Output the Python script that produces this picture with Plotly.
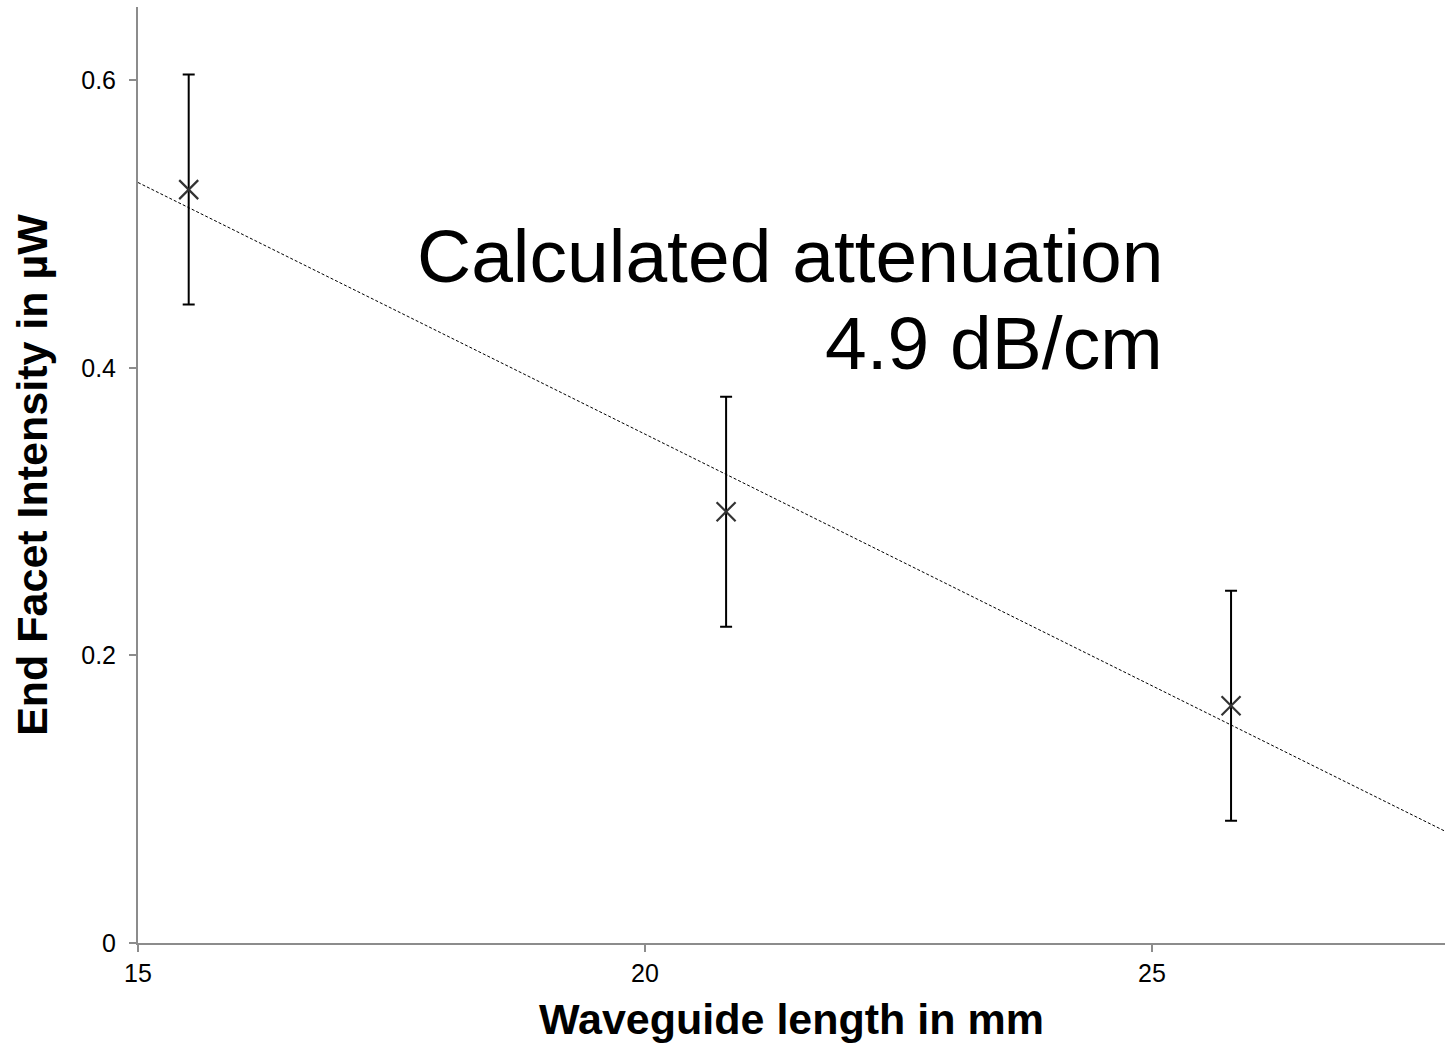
import numpy as np
import plotly.graph_objects as go

# Data
length_mm = [15.5, 20.8, 25.78]
intensity_uw = [0.524, 0.300, 0.165]
error_uw = [0.080, 0.080, 0.080]
x_ticks = [15, 20, 25]
y_ticks = [0, 0.2, 0.4, 0.6]
x_range = [15, 27.89]
y_range = [0, 0.651]
note_line1 = "Calculated attenuation"
note_line2 = "4.9 dB/cm"

FONT = "Liberation Sans, Arial, sans-serif"

# Linear trendline from data
slope, intercept = np.polyfit(length_mm, intensity_uw, 1)
trend_x = [x_range[0], x_range[1]]
trend_y = [slope * v + intercept for v in trend_x]

fig = go.Figure()
fig.add_trace(go.Scatter(
    x=trend_x, y=trend_y, mode="lines",
    line=dict(color="black", width=1, dash="3px,2px"),
    hoverinfo="skip", showlegend=False,
))
fig.add_trace(go.Scatter(
    x=length_mm, y=intensity_uw, mode="markers",
    marker=dict(symbol="x-thin", size=19, line=dict(color="#333333", width=2.2)),
    error_y=dict(type="data", array=error_uw, visible=True,
                 color="black", thickness=2, width=6),
    showlegend=False,
))

fig.add_annotation(xref="paper", yref="paper", x=0.786, y=0.734,
                   xanchor="right", yanchor="middle", text=note_line1,
                   showarrow=False, font=dict(family=FONT, size=75, color="black"))
fig.add_annotation(xref="paper", yref="paper", x=0.786, y=0.641,
                   xanchor="right", yanchor="middle", text=note_line2,
                   showarrow=False, font=dict(family=FONT, size=75, color="black"))

axis_common = dict(
    showgrid=False, zeroline=False, showline=True,
    linecolor="#8c8c8c", linewidth=2,
    ticks="outside", ticklen=7, tickwidth=2, tickcolor="#8c8c8c",
    tickfont=dict(family=FONT, size=25, color="black"),
)

fig.update_xaxes(range=x_range, tickvals=x_ticks,
                 ticktext=[str(v) for v in x_ticks],
                 title=dict(text="<b>Waveguide length in mm</b>",
                            font=dict(family=FONT, size=43, color="black"),
                            standoff=18),
                 **axis_common)
fig.update_yaxes(range=y_range, tickvals=y_ticks,
                 ticktext=[("0" if v == 0 else f"{v:.1f}") for v in y_ticks],
                 title=dict(text="<b>End Facet Intensity in µW</b>",
                            font=dict(family=FONT, size=43, color="black"),
                            standoff=20),
                 ticklabelstandoff=8,
                 **axis_common)

fig.update_layout(
    width=1445, height=1046,
    margin=dict(l=138, r=0, t=7, b=103),
    paper_bgcolor="white", plot_bgcolor="white",
    font=dict(family=FONT),
)

fig.write_html("out.html")
